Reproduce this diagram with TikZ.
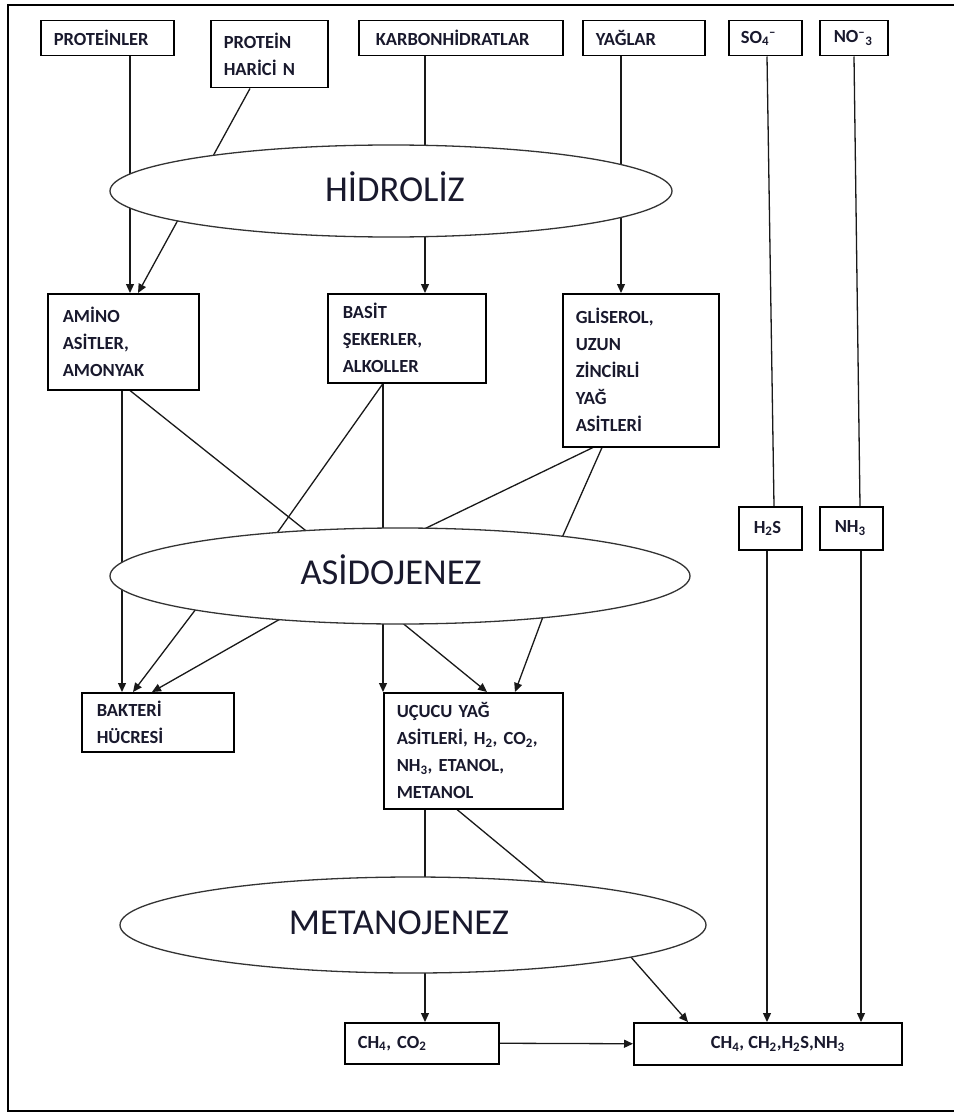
\documentclass[tikz,border=0pt]{standalone}
\usepackage{fontspec}
\setmainfont{Carlito}
\usetikzlibrary{shapes.geometric,arrows.meta}
\pgfdeclarelayer{bg}
\pgfsetlayers{bg,main}
\definecolor{textc}{RGB}{25,25,45}
\definecolor{linec}{RGB}{25,25,25}
\newcommand{\sbs}[1]{\textsubscript{#1}}
\newcommand{\sps}[1]{\textsuperscript{#1}}
\begin{document}
\begin{tikzpicture}[x=1pt,y=-1pt,
  box/.style={draw=black, line width=1.5pt, fill=white, rectangle, anchor=north west,
    inner ysep=0pt, align=left, text=textc, font=\fontsize{18.5}{27}\selectfont\bfseries},
  oval/.style={draw=black!80, line width=1.3pt, fill=white, ellipse, inner sep=0pt},
  phase/.style={text=textc, font=\fontsize{36.5}{40}\selectfont, inner sep=0pt, anchor=base},
  conn/.style={line width=1.3pt, draw=linec},
  arr/.style={conn, -{Triangle[length=9pt,width=8pt]}}]

\useasboundingbox (0,0) rectangle (953,1113);

% outer frame
\draw[line width=2pt] (960,5) -- (8,5) -- (8,1111) -- (960,1111);

% top row
\node[box, minimum width=133pt, minimum height=35pt, inner xsep=13pt, text width=107pt] (prot) at (40,20) {PROTEİNLER};
\node[box, minimum width=117pt, minimum height=67pt, inner xsep=13pt, text width=91pt] (harici) at (210,20) {PROTEİN\\HARİCİ N};
\node[box, minimum width=204pt, minimum height=35pt, inner xsep=17pt, text width=170pt] (karb) at (358,20) {KARBONHİDRATLAR};
\node[box, minimum width=122pt, minimum height=35pt, inner xsep=13pt, text width=96pt] (yag) at (582,20) {YAĞLAR};
\node[box, minimum width=73pt, minimum height=35pt, inner xsep=12pt, text width=49pt] (so4) at (728,20) {SO\sbs{4}\sps{–}};
\node[box, minimum width=68pt, minimum height=35pt, inner xsep=14pt, text width=40pt] (no3) at (819,20) {NO\sps{–}\sbs{3}};

% ellipses
\node[oval, minimum width=562pt, minimum height=92pt] (hid) at (391,191) {};
\node[phase] (hidt) at (395,201) {HİDROLİZ};
\node[oval, minimum width=580pt, minimum height=96pt] (asid) at (400,576) {};
\node[phase] (asidt) at (391,584) {ASİDOJENEZ};
\node[oval, minimum width=586pt, minimum height=96pt] (met) at (413,925) {};
\node[phase] (mett) at (399,934) {METANOJENEZ};

% middle row
\node[box, minimum width=151pt, minimum height=96pt, inner xsep=15pt, text width=121pt] (amino) at (47,293) {AMİNO\\ASİTLER,\\AMONYAK};
\node[box, minimum width=158pt, minimum height=89pt, inner xsep=15pt, text width=128pt] (basit) at (327,293) {BASİT\\ŞEKERLER,\\ALKOLLER};
\node[box, minimum width=156pt, minimum height=153pt, inner xsep=13pt, text width=130pt] (gli) at (562,293) {GLİSEROL,\\UZUN\\ZİNCİRLİ\\YAĞ\\ASİTLERİ};
\node[box, minimum width=63pt, minimum height=43pt, inner xsep=15pt, text width=33pt] (h2s) at (738,506) {H\sbs{2}S};
\node[box, minimum width=63pt, minimum height=43pt, inner xsep=15pt, text width=33pt] (nh3) at (819,506) {NH\sbs{3}};

% lower rows
\node[box, minimum width=152pt, minimum height=59pt, inner xsep=15pt, text width=122pt] (bak) at (81,692) {BAKTERİ\\HÜCRESİ};
\node[box, minimum width=179pt, minimum height=116pt, inner xsep=13pt, text width=153pt] (ucu) at (383,692) {UÇUCU YAĞ\\ASİTLERİ, H\sbs{2}, CO\sbs{2},\\NH\sbs{3}, ETANOL,\\METANOL};
\node[box, minimum width=154pt, minimum height=41pt, inner xsep=13pt, text width=128pt] (ch4) at (344,1022) {CH\sbs{4}, CO\sbs{2}};
\node[box, minimum width=268pt, minimum height=42pt, align=center] (fin) at (633,1022) {\hspace*{20pt}CH\sbs{4}, CH\sbs{2},H\sbs{2}S,NH\sbs{3}};

% free ends on ellipse borders
\coordinate (e1) at (310,534);
\coordinate (e2) at (275,536);
\coordinate (e3) at (420,531);
\coordinate (e4) at (561,540);
\coordinate (e5) at (199,605);
\coordinate (e6) at (282,618);
\coordinate (e7) at (400,621);
\coordinate (e8) at (544,614);
\coordinate (e9) at (547,884);
\coordinate (e10) at (630,956);

\begin{pgfonlayer}{bg}
\fill[white] (0,0) rectangle (953,1113);
\draw[arr] (prot.south -| 130,0) -- (amino.north -| 130,0);
\draw[arr] (harici.south -| 250,0) -- (amino.north -| 138,0);
\draw[arr] (karb.south -| 425,0) -- (basit.north -| 425,0);
\draw[arr] (yag.south -| 621,0) -- (gli.north -| 621,0);
\draw[conn] (so4.south -| 767,0) -- (h2s.north -| 774,0);
\draw[conn] (no3.south -| 854,0) -- (nh3.north -| 860,0);
\draw[arr] (amino.south -| 122,0) -- (bak.north -| 122,0);
\draw[conn] (amino.south -| 130,0) -- (e1);
\draw[conn] (basit.south -| 383,0) -- (e2);
\draw[arr] (basit.south -| 383,0) -- (ucu.north -| 383,0);
\draw[conn] (gli.south -| 593,0) -- (e3);
\draw[conn] (gli.south -| 602,0) -- (e4);
\draw[arr] (e5) -- (bak.north -| 133,0);
\draw[arr] (e6) -- (bak.north -| 152,0);
\draw[arr] (e7) -- (ucu.north -| 487,0);
\draw[arr] (e8) -- (ucu.north -| 515,0);
\draw[arr] (ucu.south -| 425,0) -- (ch4.north -| 425,0);
\draw[conn] (ucu.south -| 457,0) -- (e9);
\draw[arr] (e10) -- (fin.north -| 688,0);
\draw[arr] (ch4.east) -- (fin.west);
\draw[arr] (h2s.south -| 767,0) -- (fin.north -| 767,0);
\draw[arr] (nh3.south -| 861,0) -- (fin.north -| 861,0);
\end{pgfonlayer}
\end{tikzpicture}
\end{document}
